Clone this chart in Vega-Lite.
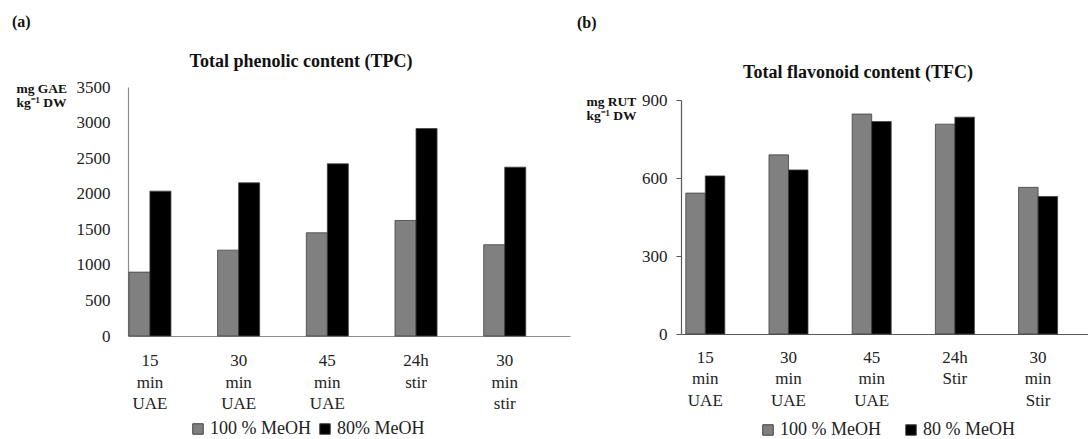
{
  "$schema": "https://vega.github.io/schema/vega-lite/v6.json",
  "padding": {"left": 12, "top": 13, "right": 0, "bottom": 0},
  "background": "white",
  "spacing": 7,
  "config": {
    "font": "Liberation Serif",
    "view": {"stroke": null},
    "scale": {"offsetBandPaddingInner": 0, "offsetBandPaddingOuter": 0},
    "axis": {"grid": false, "labelColor": "#222222", "titleColor": "#111111", "labelFont": "Liberation Serif", "titleFont": "Liberation Serif"},
    "title": {"font": "Liberation Serif", "color": "#111111"},
    "legend": {"labelFont": "Liberation Serif", "labelColor": "#222222"}
  },
  "datasets": {
    "tpc": [
      {"method": "15 min UAE", "solvent": "100 % MeOH", "value": 898},
      {"method": "15 min UAE", "solvent": "80% MeOH", "value": 2036},
      {"method": "30 min UAE", "solvent": "100 % MeOH", "value": 1207},
      {"method": "30 min UAE", "solvent": "80% MeOH", "value": 2153},
      {"method": "45 min UAE", "solvent": "100 % MeOH", "value": 1451},
      {"method": "45 min UAE", "solvent": "80% MeOH", "value": 2420},
      {"method": "24h stir", "solvent": "100 % MeOH", "value": 1624},
      {"method": "24h stir", "solvent": "80% MeOH", "value": 2916},
      {"method": "30 min stir", "solvent": "100 % MeOH", "value": 1283},
      {"method": "30 min stir", "solvent": "80% MeOH", "value": 2373}
    ],
    "tfc": [
      {"method": "15 min UAE", "solvent": "100 % MeOH", "value": 542},
      {"method": "15 min UAE", "solvent": "80 % MeOH", "value": 608},
      {"method": "30 min UAE", "solvent": "100 % MeOH", "value": 689},
      {"method": "30 min UAE", "solvent": "80 % MeOH", "value": 631},
      {"method": "45 min UAE", "solvent": "100 % MeOH", "value": 846},
      {"method": "45 min UAE", "solvent": "80 % MeOH", "value": 817},
      {"method": "24h Stir", "solvent": "100 % MeOH", "value": 807},
      {"method": "24h Stir", "solvent": "80 % MeOH", "value": 834},
      {"method": "30 min Stir", "solvent": "100 % MeOH", "value": 564},
      {"method": "30 min Stir", "solvent": "80 % MeOH", "value": 529}
    ],
    "empty": []
  },
  "hconcat": [
    {
      "title": {"text": "(a)", "anchor": "start", "fontSize": 16, "fontWeight": "bold", "font": "Liberation Serif", "offset": 23, "dx": -4},
      "vconcat": [
        {
          "title": {"text": "Total phenolic content (TPC)", "fontSize": 18, "fontWeight": "bold", "font": "Liberation Serif", "dx": -48, "offset": 7.5},
          "width": 442,
          "height": 249,
          "data": {"name": "tpc"},
          "mark": {"type": "bar", "stroke": "#404040", "strokeWidth": 0.8},
          "encoding": {
            "x": {
              "field": "method", "type": "nominal", "sort": null,
              "scale": {"paddingInner": 0.526, "paddingOuter": 0.2545, "align": 0.02},
              "axis": {"title": null, "labelAngle": 0, "labelExpr": "split(datum.label, ' ')", "labelFont": "Liberation Serif", "labelFontSize": 17, "labelLineHeight": 21.7, "labelPadding": 16.5, "ticks": false, "tickSize": 0, "domainColor": "#8c8c8c", "domainWidth": 1.2}
            },
            "xOffset": {"field": "solvent", "type": "nominal", "scale": {"paddingInner": 0, "paddingOuter": 0}},
            "y": {
              "field": "value", "type": "quantitative",
              "scale": {"domain": [0, 3500]},
              "axis": {"values": [0, 500, 1000, 1500, 2000, 2500, 3000, 3500], "format": "d", "ticks": false, "tickSize": 0, "labelPadding": 18, "labelFont": "Liberation Serif", "labelFontSize": 17, "domainColor": "#8c8c8c", "domainWidth": 1.2,
                "title": ["mg GAE", "kg⁻¹ DW"], "titleFont": "Liberation Serif", "titleAngle": 0, "titleAlign": "left", "titleBaseline": "top", "titleX": -112, "titleY": -6, "titleFontSize": 13.5, "titleFontWeight": "bold", "titleLineHeight": 14}
            },
            "color": {
              "field": "solvent", "type": "nominal",
              "scale": {"range": ["#808080", "#000000"]},
              "legend": {"orient": "none", "legendX": 61, "legendY": 333, "direction": "horizontal", "title": null, "symbolType": "square", "symbolSize": 110, "symbolStrokeColor": "#404040", "symbolStrokeWidth": 1, "symbolOpacity": 1, "labelFont": "Liberation Serif", "labelFontSize": 18, "labelOffset": 3, "columnPadding": 5}
            }
          }
        }
      ]
    },
    {
      "title": {"text": "(b)", "anchor": "start", "fontSize": 16, "fontWeight": "bold", "font": "Liberation Serif", "offset": 33, "dx": -9},
      "vconcat": [
        {
          "title": {"text": "Total flavonoid content (TFC)", "anchor": "middle", "frame": "bounds", "fontSize": 18, "fontWeight": "bold", "font": "Liberation Serif", "dx": 21, "offset": 5},
          "spacing": 0,
          "vconcat": [
            {
              "width": 407,
              "height": 4,
              "data": {"name": "empty"},
              "mark": {"type": "point", "opacity": 0},
              "encoding": {}
            },
            {
              "width": 407,
              "height": 234,
              "data": {"name": "tfc"},
              "mark": {"type": "bar", "stroke": "#404040", "strokeWidth": 0.8},
              "encoding": {
                "x": {
                  "field": "method", "type": "nominal", "sort": null,
                  "scale": {"paddingInner": 0.531, "paddingOuter": 0.2115, "align": 0.136},
                  "axis": {"title": null, "labelAngle": 0, "labelExpr": "split(datum.label, ' ')", "labelFont": "Liberation Serif", "labelFontSize": 17, "labelLineHeight": 21.7, "labelPadding": 15, "ticks": false, "tickSize": 0, "domainColor": "#595959", "domainWidth": 1.2}
                },
                "xOffset": {"field": "solvent", "type": "nominal", "scale": {"paddingInner": 0, "paddingOuter": 0}},
                "y": {
                  "field": "value", "type": "quantitative",
                  "scale": {"domain": [0, 900]},
                  "axis": {"values": [0, 300, 600, 900], "format": "d", "ticks": true, "tickSize": 5, "tickColor": "#595959", "labelPadding": 9, "labelFont": "Liberation Serif", "labelFontSize": 17, "domainColor": "#595959", "domainWidth": 1.2,
                    "title": ["mg RUT", "kg⁻¹ DW"], "titleFont": "Liberation Serif", "titleAngle": 0, "titleAlign": "left", "titleBaseline": "top", "titleX": -95, "titleY": -6, "titleFontSize": 13.5, "titleFontWeight": "bold", "titleLineHeight": 14}
                },
                "color": {
                  "field": "solvent", "type": "nominal",
                  "scale": {"range": ["#808080", "#000000"]},
                  "legend": {"orient": "none", "legendX": 78, "legendY": 334, "direction": "horizontal", "title": null, "symbolType": "square", "symbolSize": 110, "symbolStrokeColor": "#404040", "symbolStrokeWidth": 1, "symbolOpacity": 1, "labelFont": "Liberation Serif", "labelFontSize": 18, "labelOffset": 3, "columnPadding": 21}
                }
              }
            }
          ]
        }
      ]
    }
  ],
  "resolve": {"scale": {"color": "independent", "x": "independent", "y": "independent", "xOffset": "independent"}, "legend": {"color": "independent"}}
}
